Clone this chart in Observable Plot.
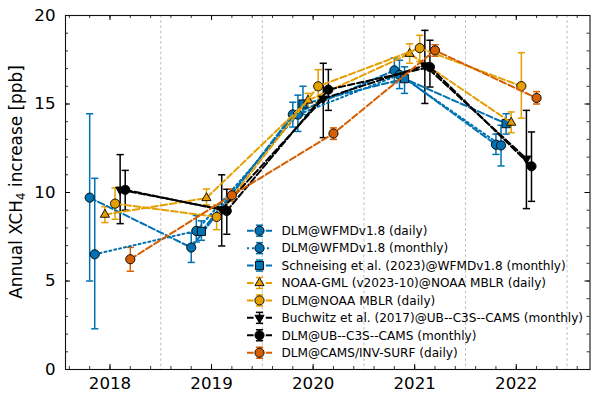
<!DOCTYPE html>
<html><head><meta charset="utf-8">
<script src="https://cdn.jsdelivr.net/npm/d3@7"></script>
<script src="https://cdn.jsdelivr.net/npm/@observablehq/plot@0.6"></script>
<style>body{margin:0;background:#fff}</style>
</head><body><div id="chart"></div>
<script>
// ---------------- data ----------------
const years = [2018, 2019, 2020, 2021, 2022];
const seriesLabels = [
  "DLM@WFMDv1.8 (daily)",
  "DLM@WFMDv1.8 (monthly)",
  "Schneising et al. (2023)@WFMDv1.8 (monthly)",
  "NOAA-GML (v2023-10)@NOAA MBLR (daily)",
  "DLM@NOAA MBLR (daily)",
  "Buchwitz et al. (2017)@UB--C3S--CAMS (monthly)",
  "DLM@UB--C3S--CAMS (monthly)",
  "DLM@CAMS/INV-SURF (daily)"
];
const seriesDodge = [-0.2, -0.15, -0.1, -0.05, 0.05, 0.1, 0.15, 0.2];
const seriesColors = ["#0072B2", "#0072B2", "#0072B2", "#E69F00", "#E69F00", "#000000", "#000000", "#D55E00"];
const seriesSymbols = ["circle", "circle", "square", "triangle", "circle", "triangle-down", "circle", "circle"];
const seriesStyles = ["dashed", "dotted", "dashed", "dashed", "dashed", "dashed", "dashed", "dashed"];

// central values, lower and upper error bounds (ppb/yr)
const wfmdDaily     = [9.71, 6.89, 14.41, 16.90, 12.70];
const wfmdDailyLo   = [5.00, 6.05, 13.70, 16.20, 12.15];
const wfmdDailyHi   = [14.45, 7.70, 15.10, 17.60, 13.30];
const wfmdMonthly   = [6.51, 7.83, 14.40, 16.65, 12.66];
const wfmdMonthlyLo = [2.30, 7.20, 13.45, 15.87, 11.50];
const wfmdMonthlyHi = [10.80, 8.70, 15.50, 17.47, 13.80];
const schneising    = [null, 7.80, 15.00, 16.43, 13.89];
const schneisingLo  = [null, 7.30, 14.40, 15.60, 13.30];
const schneisingHi  = [null, 8.40, 16.00, 17.10, 14.45];
const noaaGml       = [8.75, 9.69, 15.20, 17.84, 13.95];
const noaaGmlLo     = [8.30, 9.30, 14.80, 17.30, 13.38];
const noaaGmlHi     = [9.20, 10.20, 15.60, 18.40, 14.55];
const dlmNoaa       = [9.37, 8.62, 16.00, 18.16, 16.01];
const dlmNoaaLo     = [8.49, 7.90, 15.10, 17.40, 14.20];
const dlmNoaaHi     = [10.25, 9.30, 16.94, 18.88, 17.90];
const buchwitz      = [10.16, 9.05, 15.30, 17.18, 11.91];
const buchwitzLo    = [8.24, 6.98, 13.10, 15.03, 9.09];
const buchwitzHi    = [12.14, 11.00, 17.30, 19.16, 14.64];
const dlmUb         = [10.15, 8.96, 15.81, 17.09, 11.48];
const dlmUbLo       = [9.00, 7.64, 14.64, 15.96, 9.50];
const dlmUbHi       = [11.25, 10.18, 16.95, 18.60, 13.42];
const dlmCams       = [6.23, 9.84, 13.33, 18.03, 15.34];
const dlmCamsLo     = [5.55, 9.50, 13.00, 17.70, 15.00];
const dlmCamsHi     = [6.90, 10.20, 13.65, 18.35, 15.70];

const seriesValues = [wfmdDaily, wfmdMonthly, schneising, noaaGml, dlmNoaa, buchwitz, dlmUb, dlmCams];
const seriesLo = [wfmdDailyLo, wfmdMonthlyLo, schneisingLo, noaaGmlLo, dlmNoaaLo, buchwitzLo, dlmUbLo, dlmCamsLo];
const seriesHi = [wfmdDailyHi, wfmdMonthlyHi, schneisingHi, noaaGmlHi, dlmNoaaHi, buchwitzHi, dlmUbHi, dlmCamsHi];

const xTickYears = [2018, 2019, 2020, 2021, 2022];
const yTickValues = [0, 5, 10, 15, 20];
const gridYears = [2018.5, 2019.5, 2020.5, 2021.5, 2022.5];
const yLabel = ["Annual XCH", "4", " increase [ppb]"];

// ---------------- build table ----------------
const rows = [];
seriesValues.forEach((vals, s) => {
  vals.forEach((v, i) => {
    if (v == null) return;
    rows.push({s, label: seriesLabels[s], x: years[i] + seriesDodge[s], y: v, lo: seriesLo[s][i], hi: seriesHi[s][i]});
  });
});

// ---------------- layout/style ----------------
const W = 600, H = 399, mL = 65, mR = 10.5, mT = 15, mB = 30;
const innerW = W - mL - mR, innerH = H - mT - mB;
const dashFor = st => st === "dotted" ? "2,3" : "6.6,2.8";
const capSymbol = {draw(ctx) { ctx.moveTo(-3.6, 0); ctx.lineTo(3.6, 0); }};
const symName = sym => sym === "triangle-down" ? "triangle" : sym;
const rFor = sym => sym === "circle" ? 4.6 : sym === "square" ? 4.6 : 3.4;

const xMinor = d3.range(2017.6, 2022.75, 0.2).map(v => +v.toFixed(2));
const yMinor = d3.range(0, 21, 1);

function legendMark() {
  const g = d3.create("svg:g").attr("font-family", "DejaVu Sans").attr("font-size", 12.1).attr("text-anchor", "start");
  const x0 = 247, x1 = 272, xm = 259.5, xt = 281.5, y0 = 230.7, dy = 17.43;
  seriesLabels.forEach((lab, s) => {
    const y = y0 + s * dy, c = seriesColors[s];
    g.append("line").attr("x1", x0).attr("x2", x1).attr("y1", y).attr("y2", y)
      .attr("stroke", c).attr("stroke-width", 2).attr("stroke-dasharray", dashFor(seriesStyles[s]));
    g.append("line").attr("x1", xm).attr("x2", xm).attr("y1", y - 5.5).attr("y2", y + 5.5)
      .attr("stroke", c).attr("stroke-width", 1.5);
    [y - 5.5, y + 5.5].forEach(yy => g.append("line").attr("x1", xm - 3.6).attr("x2", xm + 3.6)
      .attr("y1", yy).attr("y2", yy).attr("stroke", c).attr("stroke-width", 1.5));
    const sym = seriesSymbols[s], r = rFor(sym);
    const type = sym === "circle" ? d3.symbolCircle : sym === "square" ? d3.symbolSquare : d3.symbolTriangle;
    g.append("path").attr("d", d3.symbol(type, Math.PI * r * r)())
      .attr("transform", `translate(${xm},${y})` + (sym === "triangle-down" ? " rotate(180)" : ""))
      .attr("fill", c).attr("stroke", "black").attr("stroke-width", 0.9);
    g.append("text").attr("x", xt).attr("y", y).attr("dy", "0.36em").attr("fill", "black")
      .attr("text-anchor", "start").text(lab);
  });
  return g.node();
}

function yLabelMark() {
  const t = d3.create("svg:text")
    .attr("transform", `translate(21.7,182) rotate(-90)`)
    .attr("text-anchor", "middle").attr("font-family", "DejaVu Sans").attr("font-size", 16.9).attr("fill", "black");
  t.append("tspan").text(yLabel[0]);
  t.append("tspan").attr("font-size", 11.8).attr("dy", 3.6).text(yLabel[1]);
  t.append("tspan").attr("dy", -3.6).text(yLabel[2]);
  return t.node();
}

const marks = [
  Plot.ruleX(gridYears, {x: d => d, stroke: "#b0b0b0", strokeWidth: 0.8, strokeDasharray: "2.8,2.4"}),
  // error bars (below lines/markers)
  Plot.ruleX(rows, {x: "x", y1: "lo", y2: "hi", stroke: d => seriesColors[d.s], strokeWidth: 1.5}),
  Plot.dot(rows, {x: "x", y: "lo", symbol: capSymbol, stroke: d => seriesColors[d.s], strokeWidth: 1.5, fill: "none"}),
  Plot.dot(rows, {x: "x", y: "hi", symbol: capSymbol, stroke: d => seriesColors[d.s], strokeWidth: 1.5, fill: "none"})
];
seriesLabels.forEach((lab, s) => {
  const data = rows.filter(d => d.s === s);
  const sym = seriesSymbols[s];
  marks.push(Plot.line(data, {x: "x", y: "y", stroke: seriesColors[s], strokeWidth: 2, strokeDasharray: dashFor(seriesStyles[s])}));
  marks.push(Plot.dot(data, {x: "x", y: "y", symbol: symName(sym), r: rFor(sym), fill: seriesColors[s], stroke: "black", strokeWidth: 0.9, rotate: sym === "triangle-down" ? 180 : 0}));
});
marks.push(
  // inward ticks on all four sides
  Plot.tickX(xTickYears, {x: d => d, insetTop: innerH - 5, stroke: "black", strokeWidth: 1}),
  Plot.tickX(xTickYears, {x: d => d, insetBottom: innerH - 5, stroke: "black", strokeWidth: 1}),
  Plot.tickX(xMinor, {x: d => d, insetTop: innerH - 3, stroke: "black", strokeWidth: 0.8}),
  Plot.tickX(xMinor, {x: d => d, insetBottom: innerH - 3, stroke: "black", strokeWidth: 0.8}),
  Plot.tickY(yTickValues, {y: d => d, insetRight: innerW - 5, stroke: "black", strokeWidth: 1}),
  Plot.tickY(yTickValues, {y: d => d, insetLeft: innerW - 5, stroke: "black", strokeWidth: 1}),
  Plot.tickY(yMinor, {y: d => d, insetRight: innerW - 3, stroke: "black", strokeWidth: 0.8}),
  Plot.tickY(yMinor, {y: d => d, insetLeft: innerW - 3, stroke: "black", strokeWidth: 0.8}),
  Plot.axisX(xTickYears, {tickSize: 0, tickPadding: 8, tickFormat: d => String(d), label: null, fontSize: 16.67}),
  Plot.axisY(yTickValues, {tickSize: 0, tickPadding: 10, label: null, fontSize: 16.67}),
  Plot.frame({stroke: "#111", strokeWidth: 1.1}),
  legendMark,
  yLabelMark
);

const chart = Plot.plot({
  width: W, height: H,
  marginLeft: mL, marginRight: mR, marginTop: mT, marginBottom: mB,
  x: {domain: [2017.562, 2022.726], label: null},
  y: {domain: [0, 20], label: null},
  color: {type: "identity"},
  style: {fontFamily: "DejaVu Sans", fontSize: "16.67px", color: "black", background: "white"},
  marks
});
document.getElementById("chart").appendChild(chart);
</script>
</body></html>
